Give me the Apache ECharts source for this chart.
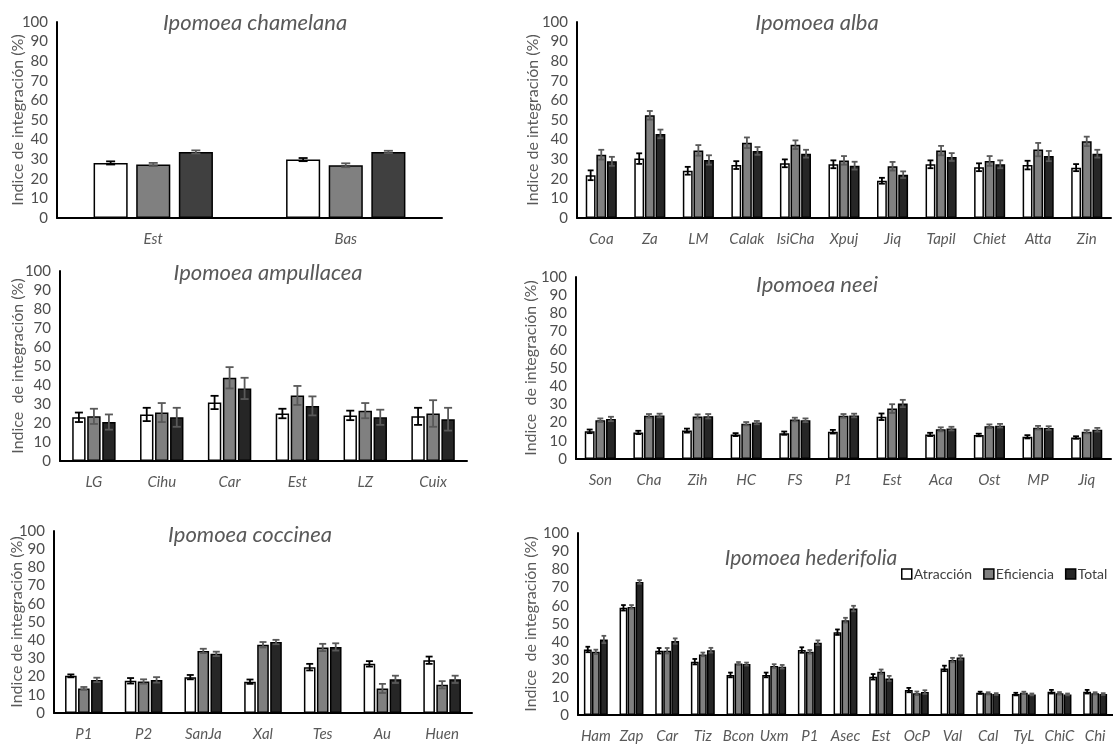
<!DOCTYPE html>
<html>
<head>
<meta charset="utf-8">
<script src="https://cdn.jsdelivr.net/npm/echarts@6/dist/echarts.min.js"></script>
<style>
html,body{margin:0;padding:0;background:#fff;}
#chart{width:1113px;height:744px;}
</style>
</head>
<body>
<div id="chart"></div>
<script>
// ---------- DATA ----------
const SERIES_NAMES = ['Atracción', 'Eficiencia', 'Total'];
const Y_TICKS = [0, 10, 20, 30, 40, 50, 60, 70, 80, 90, 100];

// Ipomoea chamelana
const chamCats = ['Est', 'Bas'];
const chamA = [28.1, 29.8];
const chamE = [27.3, 26.9];
const chamT = [33.7, 33.7];
const chamAerr = [0.8, 0.8];
const chamEerr = [0.8, 1.0];
const chamTerr = [0.8, 0.6];

// Ipomoea alba
const albaCats = ['Coa', 'Za', 'LM', 'Calak', 'IsiCha', 'Xpuj', 'Jiq', 'Tapil', 'Chiet', 'Atta', 'Zin'];
const albaA = [21.8, 30.3, 24.1, 27.0, 27.9, 27.4, 19.0, 27.4, 25.9, 27.0, 25.7];
const albaE = [32.3, 52.4, 34.5, 38.4, 37.4, 29.4, 26.4, 34.4, 29.1, 34.9, 39.1];
const albaT = [28.9, 42.9, 29.6, 34.2, 32.8, 26.7, 22.1, 31.1, 27.4, 31.6, 32.8];
const albaAerr = [2.5, 2.7, 2.0, 2.0, 2.0, 2.0, 1.5, 2.0, 2.0, 2.2, 1.8];
const albaEerr = [2.5, 2.2, 2.7, 2.7, 2.2, 2.2, 2.2, 2.4, 2.5, 3.4, 2.4];
const albaTerr = [2.3, 2.2, 2.4, 2.0, 2.0, 2.0, 1.7, 2.0, 2.0, 2.6, 2.0];

// Ipomoea ampullacea
const ampCats = ['LG', 'Cihu', 'Car', 'Est', 'LZ', 'Cuix'];
const ampA = [23.0, 24.5, 30.8, 25.0, 24.0, 23.5];
const ampE = [23.5, 25.5, 43.8, 34.5, 26.5, 25.0];
const ampT = [20.5, 23.0, 38.2, 29.0, 23.0, 22.0];
const ampAerr = [2.5, 3.5, 3.5, 2.5, 2.5, 4.5];
const ampEerr = [4.0, 5.0, 5.6, 5.0, 4.0, 7.0];
const ampTerr = [4.0, 5.0, 5.6, 5.0, 4.0, 6.0];

// Ipomoea neei
const neeiCats = ['Son', 'Cha', 'Zih', 'HC', 'FS', 'P1', 'Est', 'Aca', 'Ost', 'MP', 'Jiq'];
const neeiA = [15.2, 14.6, 15.6, 13.4, 14.2, 15.0, 23.2, 13.5, 13.2, 12.2, 11.8];
const neeiE = [21.3, 23.7, 23.3, 19.4, 21.7, 23.7, 27.7, 16.3, 18.0, 17.2, 15.0];
const neeiT = [22.0, 23.9, 23.5, 20.0, 21.3, 23.9, 30.5, 16.7, 18.3, 17.0, 16.1];
const neeiAerr = [1.0, 0.9, 1.1, 0.8, 0.9, 1.0, 1.8, 0.9, 0.7, 0.9, 0.7];
const neeiEerr = [1.0, 1.0, 1.2, 0.9, 1.0, 1.0, 2.4, 1.1, 1.0, 1.0, 0.9];
const neeiTerr = [1.2, 1.0, 1.2, 0.9, 1.0, 1.0, 2.0, 1.0, 1.0, 1.0, 1.0];

// Ipomoea coccinea
const cocCats = ['P1', 'P2', 'SanJa', 'Xal', 'Tes', 'Au', 'Huen'];
const cocA = [20.4, 17.7, 19.7, 17.2, 25.2, 27.0, 29.0];
const cocE = [13.5, 17.3, 34.1, 37.5, 36.0, 13.5, 15.5];
const cocT = [18.2, 18.2, 32.5, 39.0, 36.3, 18.5, 18.5];
const cocAerr = [0.8, 1.5, 1.2, 1.2, 1.8, 1.5, 2.0];
const cocEerr = [0.8, 1.2, 1.2, 1.5, 2.0, 2.5, 2.0];
const cocTerr = [1.2, 1.5, 1.2, 1.2, 2.0, 2.0, 2.0];

// Ipomoea hederifolia
const hedCats = ['Ham', 'Zap', 'Car', 'Tiz', 'Bcon', 'Uxm', 'P1', 'Asec', 'Est', 'OcP', 'Val', 'Cal', 'TyL', 'ChiC', 'Chi'];
const hedA = [36.0, 58.9, 35.3, 29.3, 22.0, 22.0, 35.7, 45.5, 21.0, 13.7, 25.6, 12.2, 11.5, 12.8, 12.8];
const hedE = [34.7, 59.4, 35.3, 33.3, 28.3, 26.9, 34.7, 52.1, 23.8, 11.9, 30.2, 11.9, 12.2, 11.9, 11.9];
const hedT = [41.5, 73.1, 40.6, 35.6, 28.0, 26.5, 39.7, 58.5, 20.1, 12.6, 31.6, 11.5, 11.3, 11.3, 11.5];
const hedAerr = [1.5, 1.5, 1.5, 1.5, 1.3, 1.3, 1.5, 1.5, 1.5, 1.2, 1.5, 0.6, 0.7, 1.0, 1.0];
const hedEerr = [1.2, 1.0, 1.5, 1.0, 0.8, 1.0, 1.0, 1.3, 1.2, 1.0, 1.2, 0.6, 0.6, 0.7, 0.6];
const hedTerr = [2.0, 1.0, 1.5, 1.3, 0.8, 1.0, 1.3, 1.5, 1.4, 1.0, 1.2, 0.5, 0.5, 0.5, 0.5];

// ---------- LAYOUT / STYLE ----------
const FONT = 'Lato, "Open Sans", sans-serif';
const GREY_TXT = '#595959';

const panels = [
  {title: 'Ipomoea chamelana', cx: 250, ty: 7, yname: 'Indice de integración (%)', ng: 31,
   grid: {left: 57, top: 22, width: 385, height: 196}, cg: 0.38, bg: 0.25, tColor: '#404040',
   cats: chamCats, vals: [chamA, chamE, chamT], errs: [chamAerr, chamEerr, chamTerr]},
  {title: 'Ipomoea alba', cx: 812, ty: 7, yname: 'Indice de integración (%)', ng: 36,
   grid: {left: 577, top: 22, width: 534, height: 196}, cg: 0.36, bg: 0.08, tColor: '#262626',
   cats: albaCats, vals: [albaA, albaE, albaT], errs: [albaAerr, albaEerr, albaTerr]},
  {title: 'Ipomoea ampullacea', cx: 263, ty: 257, yname: 'Indice  de integración (%)', ng: 34,
   grid: {left: 60, top: 271, width: 407, height: 190}, cg: 0.36, bg: 0.12, tColor: '#262626',
   cats: ampCats, vals: [ampA, ampE, ampT], errs: [ampAerr, ampEerr, ampTerr]},
  {title: 'Ipomoea neei', cx: 812, ty: 269, yname: 'Indice  de integración (%)', ng: 37,
   grid: {left: 576, top: 277, width: 535, height: 182}, cg: 0.36, bg: 0.08, tColor: '#262626',
   cats: neeiCats, vals: [neeiA, neeiE, neeiT], errs: [neeiAerr, neeiEerr, neeiTerr]},
  {title: 'Ipomoea coccinea', cx: 245, ty: 519, yname: 'Indice de integración (%)', ng: 29,
   grid: {left: 54, top: 531, width: 418, height: 182}, cg: 0.37, bg: 0.12, tColor: '#262626',
   cats: cocCats, vals: [cocA, cocE, cocT], errs: [cocAerr, cocEerr, cocTerr]},
  {title: 'Ipomoea hederifolia', cx: 806, ty: 543, yname: 'Indice  de integración (%)', ng: 39,
   grid: {left: 578, top: 533, width: 540, height: 182}, cg: 0.33, bg: 0.03, tColor: '#262626',
   cats: hedCats, vals: [hedA, hedE, hedT], errs: [hedAerr, hedEerr, hedTerr], tsize: 21}
];

const grids = [], xAxes = [], yAxes = [], series = [], titles = [];

panels.forEach((p, gi) => {
  grids.push(Object.assign({containLabel: false}, p.grid));
  titles.push({
    text: p.title, left: p.cx, top: p.ty, textAlign: 'center',
    textStyle: {fontFamily: FONT, fontStyle: 'italic', fontWeight: 'normal', fontSize: p.tsize || 22, color: GREY_TXT}
  });
  xAxes.push({
    type: 'category', gridIndex: gi, data: p.cats,
    axisLine: {lineStyle: {color: '#000', width: 2}},
    axisTick: {show: false},
    axisLabel: {fontFamily: FONT, fontStyle: 'italic', fontSize: 15, color: GREY_TXT, margin: 14, interval: 0}
  });
  yAxes.push({
    type: 'value', gridIndex: gi, min: Y_TICKS[0], max: Y_TICKS[Y_TICKS.length - 1], interval: 10,
    axisLine: {show: true, lineStyle: {color: '#000', width: 2}},
    axisTick: {show: false},
    splitLine: {show: false},
    axisLabel: {fontFamily: FONT, fontSize: 15, color: '#4d4d4d', margin: 9},
    name: p.yname, nameLocation: 'middle', nameRotate: 90, nameGap: p.ng,
    nameMoveOverlap: false,
    nameTextStyle: {fontFamily: FONT, fontSize: 16, color: GREY_TXT}
  });
  const fills = ['#ffffff', '#808080', p.tColor];
  const errColors = ['#000000', '#595959', '#595959'];
  for (let s = 0; s < 3; s++) {
    series.push({
      type: 'bar', name: SERIES_NAMES[s], xAxisIndex: gi, yAxisIndex: gi,
      data: p.vals[s],
      barCategoryGap: (p.cg * 100) + '%', barGap: (p.bg * 100) + '%',
      itemStyle: {color: fills[s], borderColor: '#000', borderWidth: 1.5},
      emphasis: {disabled: true},
      animation: false, z: 2
    });
  }
  for (let s = 0; s < 3; s++) {
    const d = p.vals[s].map((v, i) => [i, v, p.errs[s][i]]);
    const cg = p.cg, bg = p.bg, col = errColors[s], idx = s;
    series.push({
      type: 'custom', name: 'err' + gi + '_' + s, xAxisIndex: gi, yAxisIndex: gi,
      data: d, encode: {x: 0, y: 1}, z: 5, animation: false, clip: false, silent: true,
      renderItem: function (params, api) {
        const i = api.value(0), v = api.value(1), e = api.value(2);
        const catW = api.size([1, 0])[0];
        const groupW = catW * (1 - cg);
        const w = groupW / (3 + 2 * bg);
        const off = -groupW / 2 + idx * w * (1 + bg) + w / 2;
        const c = api.coord([i, v]);
        const x = c[0] + off;
        const yTop = api.coord([i, v + e])[1];
        const yBot = api.coord([i, v - e])[1];
        const cap = Math.min(w * 0.6, 9) / 2;
        const st = {stroke: col, lineWidth: 1.8};
        return {
          type: 'group', children: [
            {type: 'line', shape: {x1: x, y1: yTop, x2: x, y2: yBot}, style: st},
            {type: 'line', shape: {x1: x - cap, y1: yTop, x2: x + cap, y2: yTop}, style: st},
            {type: 'line', shape: {x1: x - cap, y1: yBot, x2: x + cap, y2: yBot}, style: st}
          ]
        };
      }
    });
  }
});

const chart = echarts.init(document.getElementById('chart'), null, {renderer: 'canvas'});
chart.setOption({
  backgroundColor: '#ffffff',
  animation: false,
  title: titles,
  grid: grids,
  xAxis: xAxes,
  yAxis: yAxes,
  legend: {
    orient: 'horizontal', left: 901, top: 567, width: 260, padding: 0,
    icon: 'rect', itemWidth: 10, itemHeight: 10, itemGap: 11,
    selectedMode: false,
    textStyle: {fontFamily: FONT, fontSize: 14, color: '#404040', padding: [0, 0, 0, -3]},
    data: [
      {name: 'Atracción', itemStyle: {color: '#ffffff', borderColor: '#000', borderWidth: 1.5}},
      {name: 'Eficiencia', itemStyle: {color: '#808080', borderColor: '#000', borderWidth: 1.5}},
      {name: 'Total', itemStyle: {color: '#262626', borderColor: '#000', borderWidth: 1.5}}
    ]
  },
  series: series
});
</script>
</body>
</html>
